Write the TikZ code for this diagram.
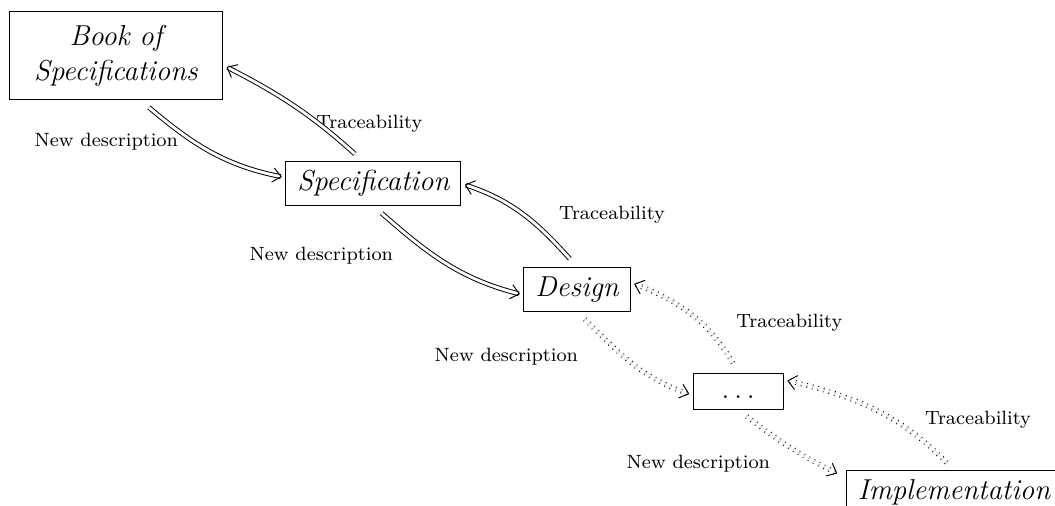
\documentclass[tikz,border=0pt,12pt]{standalone}
\usetikzlibrary{positioning,arrows.meta}

\tikzset{
  phase/.style={draw, font=\itshape},
  single/.style={phase, text height=8pt, text depth=2.3pt, inner xsep=4.8pt},
  remark/.style={font=\scriptsize},
  refine/.style={-{Straight Barb[length=3.5pt,width=6pt,line width=.4pt]}, double, double distance=1.2pt,
    shorten <=4.5pt, shorten >=1.5pt},
  refine later/.style={refine, dotted},
}

\begin{document}
\begin{tikzpicture}
  \useasboundingbox (-48.3pt,-187.5pt) rectangle (391.3pt,23.3pt);

  % the chain of phases
  \node (book)[phase, text width=2.85cm, minimum height=36.7pt, align=center] at (0,0) {Book of\\ Specifications};
  \node (spec)[single, below right=8.9mm and 9.1mm of book] {Specification};
  \node (design)[single, below right=8.9mm and 9.1mm of spec] {Design};
  \node (dots)[phase, below right=8.9mm and 9.1mm of design, minimum width=37.5pt,
    text height=6.6pt, text depth=.5pt] {$\ldots$};
  \node (impl)[single, below right=8.9mm and 9.1mm of dots] {Implementation};

  % labels of the links
  \node (nd1)[remark] at (-4pt,-35.8pt) {New description};
  \node (tr1)[remark] at (105.6pt,-28.3pt) {Traceability};
  \node (nd2)[remark] at (85.6pt,-83.3pt) {New description};
  \node (tr2)[remark] at (206.7pt,-66.3pt) {Traceability};
  \node (nd3)[remark] at (162.7pt,-125.4pt) {New description};
  \node (tr3)[remark] at (280.6pt,-111.3pt) {Traceability};
  \node (nd4)[remark] at (242.7pt,-170pt) {New description};
  \node (tr4)[remark] at (359.2pt,-151.7pt) {Traceability};

  % down: new description, up: traceability
  \draw[refine] (book.-61) to[out=-40, in=169] (spec.176);
  \draw[refine] (spec.115) to[out=138, in=-27] (book.-5);
  \draw[refine] (spec.south) to[out=-41, in=166] (design.186);
  \draw[refine] (design.north) to[out=132, in=-18] (spec.east);
  \draw[refine later] (design.south) to[out=-44, in=162] (dots.185);
  \draw[refine later] (dots.north) to[out=120, in=-20] (design.7);
  \draw[refine later, shorten >=4pt] (dots.south) to[out=-38, in=154] (impl.172);
  \draw[refine later] (impl.north) to[out=134, in=-13] (dots.14);
\end{tikzpicture}
\end{document}
